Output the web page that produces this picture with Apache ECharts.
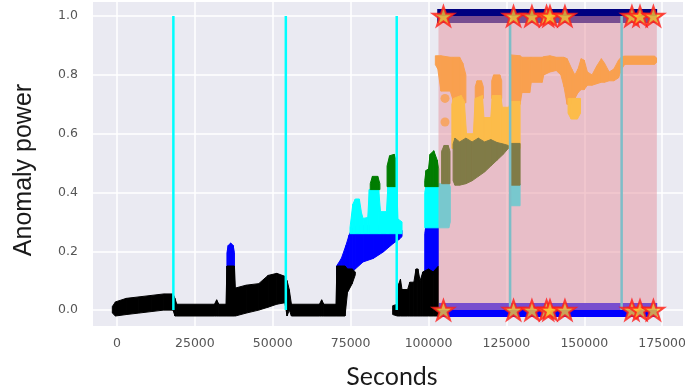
<!DOCTYPE html>
<html>
<head>
<meta charset="utf-8">
<title>Anomaly power</title>
<script src="https://cdn.jsdelivr.net/npm/echarts@6/dist/echarts.min.js"></script>
<style>
  html, body { margin: 0; padding: 0; background: #fff; }
  #chart { width: 685px; height: 389px; }
</style>
</head>
<body>
<div id="chart"></div>
<script>
/* ---------------------- axes ---------------------- */
const X_MIN = -7700, X_MAX = 181700;
const Y_MIN = -0.054, Y_MAX = 1.048;
const X_TICKS = [0, 25000, 50000, 75000, 100000, 125000, 150000, 175000];
const Y_TICKS = [0, 0.2, 0.4, 0.6, 0.8, 1.0];

/* ---------------------- bands: x, lower edge, upper edge (null = gap) ---------------------- */
const BLACK_X  = [-1500, -500, 3000, 7000, 11000, 15000, 18000, 18600, 19200, 31300, 32000, 32700, 35000, 35300, 37700, 38000, 41500, 45500, 48500, 51300, 53900, 54600, 55300, 56000, 65000, 65700, 66400, 70300, 70600, 73200, 74000, 75500, 76500, 77000, 88500, 90000, 90500, 91000, 91500, 93300, 94000, 95300, 96000, 96600, 97300, 98200, 100000, 101500, 103200];
const BLACK_LO = [-0.01, -0.02, -0.015, -0.01, -0.005, 0, 0, -0.02, -0.02, -0.02, -0.02, -0.02, -0.02, -0.02, -0.02, -0.02, -0.01, 0, 0.01, 0.02, 0.025, -0.02, 0, -0.02, -0.02, -0.02, -0.02, -0.02, -0.02, -0.02, 0.06, 0.09, 0.12, null, -0.015, -0.02, -0.02, -0.02, -0.02, -0.02, -0.02, -0.02, -0.02, -0.02, -0.02, -0.02, -0.02, -0.02, -0.02];
const BLACK_HI = [0.012, 0.028, 0.04, 0.045, 0.05, 0.055, 0.055, 0.04, 0.02, 0.02, 0.035, 0.02, 0.02, 0.15, 0.15, 0.075, 0.085, 0.09, 0.118, 0.125, 0.115, 0.1, 0.07, 0.02, 0.02, 0.035, 0.02, 0.02, 0.15, 0.15, 0.14, 0.14, 0.13, null, 0.015, 0.02, 0.09, 0.105, 0.07, 0.07, 0.095, 0.095, 0.14, 0.14, 0.1, 0.13, 0.14, 0.13, 0.15];

const BLUE_X  = [35300, 35700, 36500, 37300, 37700, 38000, 70500, 72000, 73500, 74500, 75500, 76500, 79000, 82300, 85500, 88700, 90500, 91500, 92000, 98800, 99200, 103200];
const BLUE_LO = [0.14, 0.14, 0.14, 0.14, 0.14, null, 0.12, 0.12, 0.12, 0.12, 0.13, 0.14, 0.164, 0.176, 0.198, 0.227, 0.24, 0.25, null, 0.12, 0.12, 0.12];
const BLUE_HI = [0.195, 0.22, 0.228, 0.22, 0.195, null, 0.15, 0.175, 0.22, 0.255, 0.278, 0.285, 0.288, 0.288, 0.288, 0.288, 0.286, 0.27, null, 0.26, 0.29, 0.295];

const CYAN_X  = [74800, 75700, 76500, 77800, 78500, 79000, 80500, 81000, 84000, 84600, 86500, 87000, 89800, 90200, 91500, 92000, 98800, 99300, 106500, 107000, 107500, 126300, 129400];
const CYAN_LO = [0.26, 0.26, 0.26, 0.26, 0.26, 0.26, 0.26, 0.26, 0.26, 0.26, 0.26, 0.26, 0.26, 0.26, 0.26, null, 0.28, 0.28, 0.28, 0.3, null, 0.355, 0.355];
const CYAN_HI = [0.28, 0.36, 0.378, 0.378, 0.33, 0.312, 0.315, 0.41, 0.41, 0.335, 0.335, 0.43, 0.43, 0.31, 0.3, null, 0.4, 0.43, 0.43, 0.42, null, 0.43, 0.43];

const GREEN_X  = [81300, 82000, 83700, 84400, 84800, 86700, 87500, 89000, 89800, 90200, 98800, 99200, 100000, 100500, 101700, 102800, 103300];
const GREEN_LO = [0.41, 0.41, 0.41, 0.41, null, 0.42, 0.42, 0.42, 0.42, null, 0.42, 0.42, 0.42, 0.42, 0.42, 0.42, 0.42];
const GREEN_HI = [0.43, 0.455, 0.455, 0.43, null, 0.49, 0.525, 0.53, 0.5, null, 0.44, 0.475, 0.48, 0.53, 0.542, 0.51, 0.48];

const ORANGE_X  = [102200, 103000, 104000, 107000, 108000, 110000, 111000, 112000, 112400, 115000, 115600, 117000, 117600, 118000, 120300, 120900, 122900, 123500, 124000, 126000, 126500, 129400, 130000, 132500, 133000, 136500, 137000, 139000, 141000, 142500, 143500, 144500, 146000, 147000, 148000, 149000, 150000, 151000, 152500, 154000, 155500, 156500, 158000, 159500, 161000, 162000, 163000, 172500, 173200];
const ORANGE_LO = [0.835, 0.82, 0.745, 0.745, 0.71, 0.71, 0.705, 0.705, null, 0.72, 0.72, 0.72, 0.72, null, 0.72, 0.72, 0.72, 0.72, null, 0.8, 0.7, 0.7, 0.74, 0.74, 0.775, 0.775, 0.8, 0.81, 0.815, 0.8, 0.76, 0.7, 0.7, 0.72, 0.74, 0.75, 0.75, 0.765, 0.765, 0.77, 0.775, 0.775, 0.78, 0.78, 0.79, 0.82, 0.836, 0.836, 0.842];
const ORANGE_HI = [0.865, 0.865, 0.865, 0.86, 0.86, 0.86, 0.84, 0.8, null, 0.76, 0.78, 0.78, 0.76, null, 0.78, 0.8, 0.8, 0.78, null, 0.855, 0.868, 0.865, 0.86, 0.86, 0.86, 0.86, 0.862, 0.865, 0.86, 0.86, 0.86, 0.855, 0.82, 0.8, 0.82, 0.855, 0.85, 0.81, 0.8, 0.83, 0.855, 0.84, 0.81, 0.82, 0.85, 0.862, 0.864, 0.864, 0.858];

const YELLOW_X  = [107500, 108000, 110500, 111500, 112200, 114400, 115000, 117300, 117800, 120000, 120500, 123200, 123700, 125800, 126300, 129400, 129600, 144800, 145800, 147800, 148800];
const YELLOW_LO = [0.55, 0.55, 0.55, 0.55, 0.55, 0.55, 0.55, 0.55, 0.55, 0.55, 0.55, 0.55, 0.55, 0.55, 0.55, 0.55, null, 0.67, 0.65, 0.65, 0.67];
const YELLOW_HI = [0.7, 0.72, 0.73, 0.71, 0.6, 0.6, 0.72, 0.73, 0.655, 0.655, 0.73, 0.73, 0.69, 0.69, 0.71, 0.71, null, 0.72, 0.72, 0.72, 0.72];

const OLIVE_X  = [104200, 105000, 106300, 106900, 107400, 107900, 108500, 110000, 112000, 114000, 116000, 118000, 120000, 122000, 124000, 125600, 126000, 126300, 129400];
const OLIVE_LO = [0.43, 0.43, 0.43, 0.43, null, 0.44, 0.425, 0.425, 0.43, 0.44, 0.455, 0.47, 0.49, 0.51, 0.53, 0.55, null, 0.425, 0.425];
const OLIVE_HI = [0.54, 0.56, 0.56, 0.54, null, 0.565, 0.585, 0.572, 0.585, 0.572, 0.585, 0.572, 0.58, 0.57, 0.565, 0.56, null, 0.567, 0.567];

/* isolated points */
const ORANGE_DOT_X = [105300, 105300];
const ORANGE_DOT_Y = [0.72, 0.64];

/* vertical markers, anomaly window, detections */
const VLINE_X = [18100, 54200, 89800];
const VLINE_IN_X = [126200, 162000];
const WINDOW_X = [103200, 173300];
const BAR_X = [102800, 173400];
const STAR_X = [104800, 127300, 133200, 137900, 139000, 143800, 165300, 167900, 172200];

const STAR_PATH = "path://M50,2 L61.8,36.2 L97.6,36.2 L68.6,57.4 L79.6,91.8 L50,70.6 L20.4,91.8 L31.4,57.4 L2.4,36.2 L38.2,36.2 Z";

// Band between two edges: one quad per pair of neighbouring samples
function bandSeries(name, xs, lo, hi, color, z) {
  const data = [];
  for (let i = 0; i + 1 < xs.length; i++) {
    if (lo[i] == null || lo[i + 1] == null) continue;
    data.push([xs[i], lo[i], hi[i], xs[i + 1], lo[i + 1], hi[i + 1]]);
  }
  return {
    type: "custom", name, data, z, silent: true,
    encode: { x: [0, 3], y: [1, 2, 4, 5] },
    renderItem: (params, api) => ({
      type: "polygon",
      shape: { points: [
        api.coord([api.value(0), api.value(1)]),
        api.coord([api.value(3), api.value(4)]),
        api.coord([api.value(3), api.value(5)]),
        api.coord([api.value(0), api.value(2)]),
      ] },
      style: { fill: color, stroke: color, lineWidth: 1, lineJoin: "round" },
    }),
  };
}

function vline(x, color, z) {
  return { type: "line", data: [[x, 0], [x, 1]], symbol: "none", silent: true,
    lineStyle: { color, width: 2.5 }, z };
}

function hbar(y, color) {
  return { type: "line", data: [[BAR_X[0], y], [BAR_X[1], y]], symbol: "none", silent: true,
    lineStyle: { color, width: 14, cap: "butt" }, z: 2 };
}

const chart = echarts.init(document.getElementById("chart"), null, { renderer: "canvas" });

const series = [
  bandSeries("blue", BLUE_X, BLUE_LO, BLUE_HI, "#0000FF", 2),
  bandSeries("cyan", CYAN_X, CYAN_LO, CYAN_HI, "#00FFFF", 2),
  bandSeries("green", GREEN_X, GREEN_LO, GREEN_HI, "#007D00", 2),
  bandSeries("black", BLACK_X, BLACK_LO, BLACK_HI, "#000000", 3),
  hbar(1, "#000080"),
  hbar(0, "#0000FF"),
  ...VLINE_X.map(x => vline(x, "#00FFFF", 3)),
  { type: "line", data: [[WINDOW_X[0], 1], [WINDOW_X[1], 1]], symbol: "none", silent: true,
    lineStyle: { width: 0, opacity: 0 }, areaStyle: { color: "rgba(230,150,161,0.52)", opacity: 1 }, z: 4 },
  bandSeries("orange", ORANGE_X, ORANGE_LO, ORANGE_HI, "#F9A04F", 5),
  bandSeries("yellow", YELLOW_X, YELLOW_LO, YELLOW_HI, "#FCBC4A", 5),
  bandSeries("olive", OLIVE_X, OLIVE_LO, OLIVE_HI, "#807B47", 5),
  { type: "scatter", data: ORANGE_DOT_X.map((x, i) => [x, ORANGE_DOT_Y[i]]), symbolSize: 9, silent: true,
    itemStyle: { color: "#F9A04F" }, z: 5 },
  ...VLINE_IN_X.map(x => vline(x, "#7DBEC8", 6)),
  ...[1, 0].map(y => ({
    type: "scatter", data: STAR_X.map(x => [x, y]), symbol: STAR_PATH, symbolSize: 21, symbolKeepAspect: true,
    silent: true, itemStyle: { color: "#FBCB2F", borderColor: "#FF1A1A", borderWidth: 2 }, z: 7,
  })),
];

chart.setOption({
  animation: false,
  grid: { left: 93, right: 2, top: 2, bottom: 63, show: true, backgroundColor: "#EAEAF2", borderWidth: 0, outerBoundsMode: "none" },
  xAxis: {
    type: "value", min: X_MIN, max: X_MAX,
    axisLine: { show: false },
    axisTick: { show: false, customValues: X_TICKS },
    axisLabel: { customValues: X_TICKS, color: "#555", fontSize: 12.5, fontFamily: "DejaVu Sans", margin: 11,
      formatter: v => String(v) },
    splitLine: { show: true, lineStyle: { color: "#FFFFFF", width: 1.5 } },
    name: "Seconds", nameLocation: "middle", nameGap: 38,
    nameTextStyle: { fontFamily: "Lato", fontSize: 25, color: "#1a1a1a", padding: [0, 0, 0, 8] },
  },
  yAxis: {
    type: "value", min: Y_MIN, max: Y_MAX,
    axisLine: { show: false },
    axisTick: { show: false, customValues: Y_TICKS },
    axisLabel: { customValues: Y_TICKS, color: "#555", fontSize: 12.5, fontFamily: "DejaVu Sans", margin: 15,
      formatter: v => v.toFixed(1) },
    splitLine: { show: true, lineStyle: { color: "#FFFFFF", width: 1.5 } },
    name: "Anomaly power", nameLocation: "middle", nameGap: 56,
    nameTextStyle: { fontFamily: "Liberation Sans", fontSize: 25, color: "#1a1a1a", padding: [0, 12, 0, 0] },
  },
  series,
});
</script>
</body>
</html>
